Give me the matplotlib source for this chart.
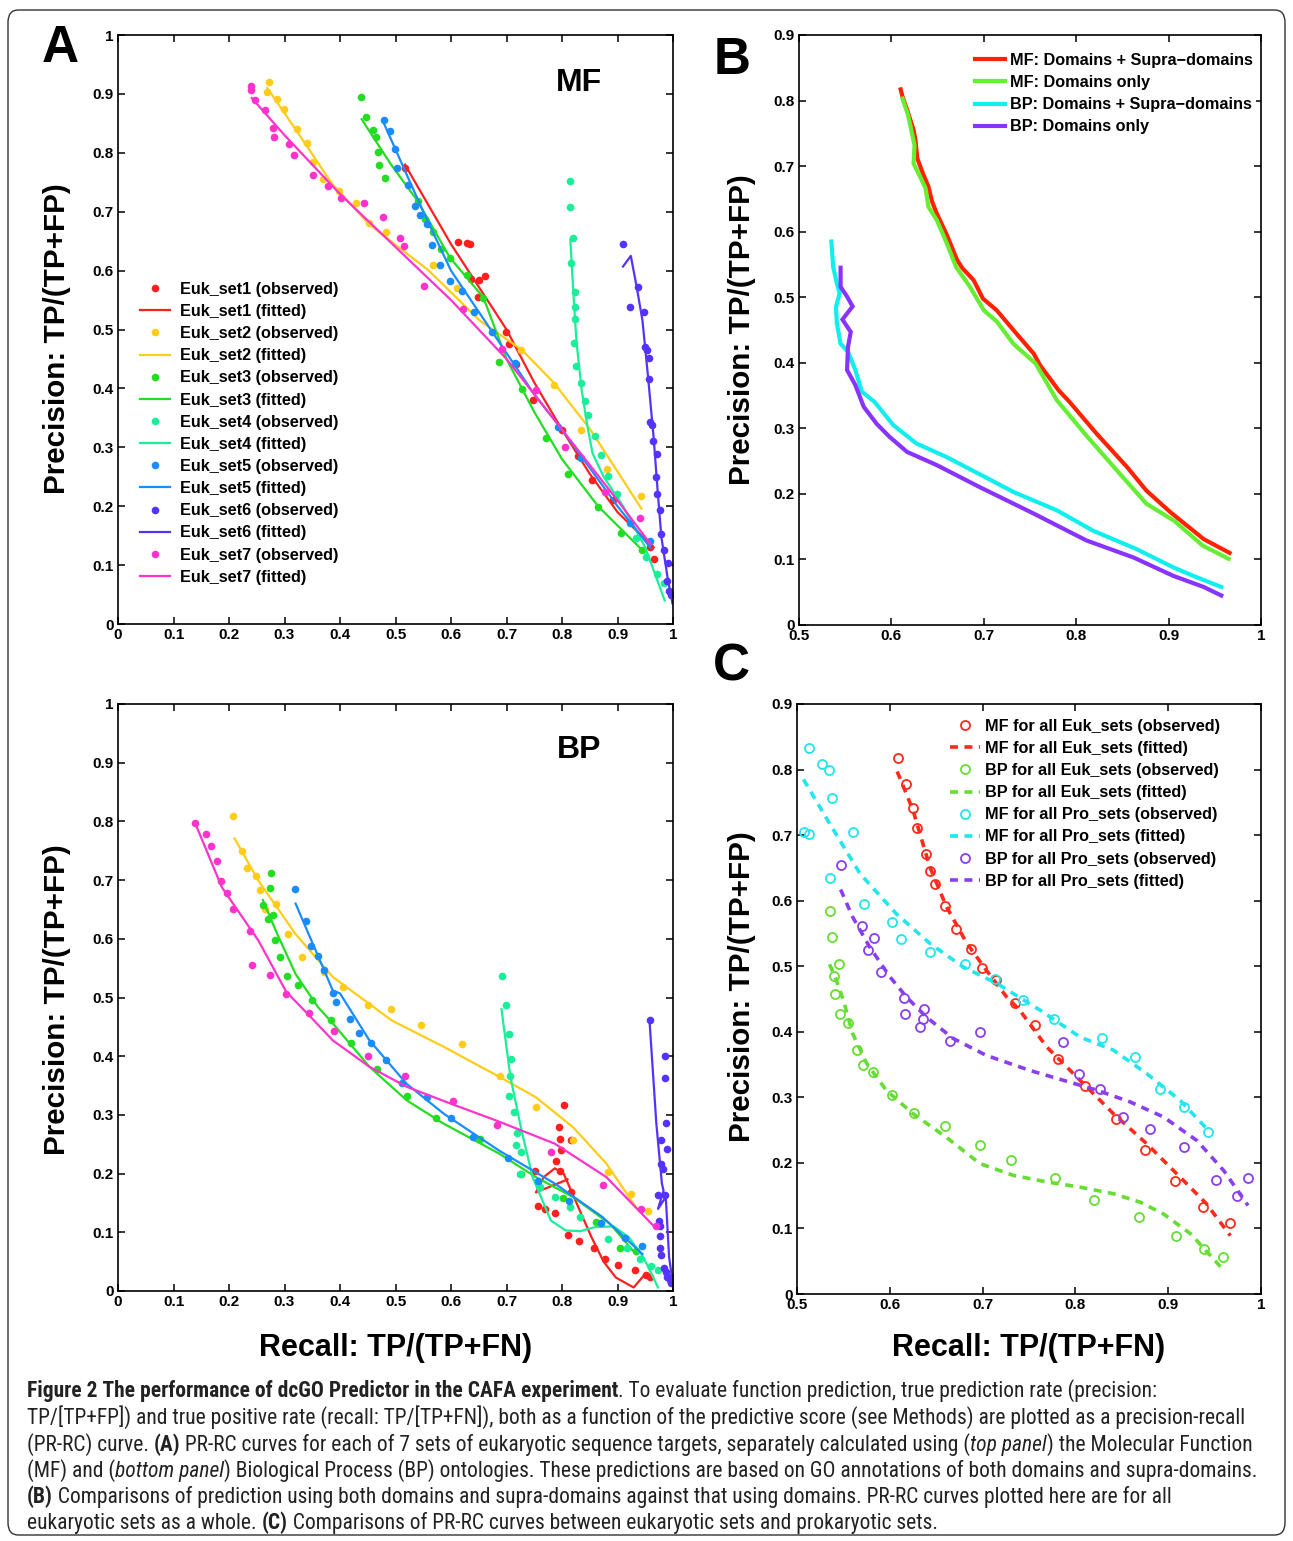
import matplotlib
matplotlib.use('Agg')
import matplotlib.pyplot as plt
from matplotlib.patches import FancyBboxPatch
from matplotlib import font_manager

# ---------------- DATA ----------------
set_names = ['Euk_set1', 'Euk_set2', 'Euk_set3', 'Euk_set4', 'Euk_set5', 'Euk_set6', 'Euk_set7']
set_colors = ['#ff1f1f', '#ffcc1a', '#22dd22', '#1aee99', '#1a8cff', '#5533ff', '#ff33cc']

# Panel A, MF: observed
mf_obs_x = [
    [0.517, 0.612, 0.628, 0.634, 0.636, 0.651, 0.662, 0.648, 0.699, 0.705, 0.717, 0.747, 0.800, 0.829, 0.854, 0.892, 0.959, 0.965],
    [0.272, 0.269, 0.287, 0.299, 0.322, 0.340, 0.351, 0.370, 0.399, 0.428, 0.452, 0.482, 0.567, 0.610, 0.727, 0.785, 0.835, 0.881, 0.943],
    [0.438, 0.446, 0.460, 0.464, 0.468, 0.470, 0.481, 0.540, 0.554, 0.568, 0.582, 0.598, 0.628, 0.658, 0.686, 0.728, 0.771, 0.811, 0.865, 0.906, 0.945],
    [0.815, 0.815, 0.819, 0.816, 0.824, 0.824, 0.824, 0.821, 0.825, 0.835, 0.841, 0.847, 0.859, 0.871, 0.882, 0.899, 0.933, 0.952, 0.971, 0.984],
    [0.480, 0.490, 0.499, 0.502, 0.523, 0.536, 0.545, 0.556, 0.566, 0.581, 0.598, 0.619, 0.642, 0.674, 0.715, 0.793, 0.834, 0.923, 0.959],
    [0.910, 0.923, 0.937, 0.947, 0.949, 0.953, 0.957, 0.957, 0.959, 0.963, 0.964, 0.971, 0.970, 0.972, 0.976, 0.979, 0.983, 0.991, 0.990, 0.993, 0.997],
    [0.240, 0.240, 0.247, 0.264, 0.280, 0.281, 0.308, 0.317, 0.351, 0.378, 0.402, 0.443, 0.477, 0.508, 0.516, 0.551, 0.621, 0.692, 0.754, 0.805, 0.878, 0.941],
]
mf_obs_y = [
    [0.775, 0.649, 0.647, 0.645, 0.585, 0.584, 0.590, 0.556, 0.495, 0.476, 0.441, 0.381, 0.329, 0.285, 0.245, 0.210, 0.131, 0.111],
    [0.920, 0.903, 0.892, 0.875, 0.841, 0.816, 0.785, 0.756, 0.735, 0.715, 0.680, 0.666, 0.610, 0.571, 0.466, 0.405, 0.329, 0.263, 0.218],
    [0.895, 0.861, 0.838, 0.827, 0.802, 0.779, 0.758, 0.718, 0.687, 0.665, 0.636, 0.621, 0.593, 0.553, 0.445, 0.399, 0.315, 0.254, 0.199, 0.154, 0.125],
    [0.752, 0.708, 0.656, 0.613, 0.564, 0.538, 0.517, 0.477, 0.438, 0.409, 0.378, 0.355, 0.319, 0.287, 0.251, 0.220, 0.146, 0.114, 0.085, 0.069],
    [0.856, 0.837, 0.807, 0.775, 0.745, 0.709, 0.695, 0.679, 0.644, 0.609, 0.582, 0.565, 0.529, 0.496, 0.443, 0.334, 0.282, 0.171, 0.141],
    [0.645, 0.539, 0.573, 0.530, 0.471, 0.466, 0.452, 0.416, 0.343, 0.338, 0.311, 0.288, 0.249, 0.220, 0.194, 0.153, 0.125, 0.104, 0.073, 0.056, 0.049],
    [0.913, 0.907, 0.890, 0.872, 0.842, 0.827, 0.815, 0.796, 0.762, 0.744, 0.724, 0.715, 0.691, 0.655, 0.641, 0.574, 0.535, 0.467, 0.398, 0.300, 0.224, 0.180],
]
# Panel A, MF: fitted
mf_fit_x = [
    [0.517, 0.600, 0.700, 0.750, 0.800, 0.850, 0.900, 0.965],
    [0.269, 0.322, 0.386, 0.452, 0.560, 0.652, 0.727, 0.785, 0.852, 0.943],
    [0.439, 0.492, 0.540, 0.598, 0.658, 0.700, 0.750, 0.800, 0.865, 0.945],
    [0.815, 0.820, 0.826, 0.835, 0.845, 0.855, 0.875, 0.910, 0.950, 0.985],
    [0.480, 0.550, 0.600, 0.650, 0.700, 0.750, 0.800, 0.850, 0.900, 0.959],
    [0.910, 0.924, 0.935, 0.945, 0.955, 0.965, 0.972, 0.979, 0.990, 0.999],
    [0.241, 0.300, 0.400, 0.500, 0.600, 0.700, 0.800, 0.900, 0.960],
]
mf_fit_y = [
    [0.780, 0.645, 0.500, 0.410, 0.330, 0.255, 0.190, 0.130],
    [0.910, 0.837, 0.747, 0.679, 0.600, 0.515, 0.466, 0.410, 0.329, 0.196],
    [0.857, 0.780, 0.718, 0.622, 0.555, 0.450, 0.360, 0.280, 0.200, 0.125],
    [0.653, 0.570, 0.480, 0.400, 0.340, 0.290, 0.250, 0.200, 0.130, 0.040],
    [0.848, 0.700, 0.600, 0.530, 0.460, 0.390, 0.330, 0.265, 0.200, 0.130],
    [0.607, 0.625, 0.570, 0.515, 0.420, 0.318, 0.230, 0.148, 0.080, 0.035],
    [0.893, 0.830, 0.730, 0.640, 0.550, 0.450, 0.330, 0.210, 0.135],
]

# Panel A, BP: observed
bp_obs_x = [
    [0.752, 0.757, 0.770, 0.787, 0.790, 0.795, 0.797, 0.799, 0.797, 0.803, 0.817, 0.817, 0.811, 0.831, 0.857, 0.877, 0.901, 0.931, 0.952, 0.958],
    [0.208, 0.223, 0.232, 0.248, 0.256, 0.264, 0.285, 0.306, 0.332, 0.372, 0.405, 0.451, 0.491, 0.546, 0.620, 0.689, 0.753, 0.819, 0.882, 0.925, 0.955],
    [0.261, 0.275, 0.273, 0.270, 0.279, 0.282, 0.291, 0.305, 0.324, 0.350, 0.383, 0.420, 0.467, 0.520, 0.573, 0.653, 0.727, 0.801, 0.861, 0.905, 0.933],
    [0.691, 0.699, 0.705, 0.708, 0.707, 0.705, 0.713, 0.719, 0.718, 0.727, 0.725, 0.760, 0.787, 0.815, 0.832, 0.883, 0.917, 0.940, 0.960, 0.973],
    [0.319, 0.338, 0.347, 0.361, 0.372, 0.388, 0.393, 0.418, 0.435, 0.455, 0.482, 0.512, 0.557, 0.600, 0.639, 0.702, 0.757, 0.813, 0.871, 0.913, 0.945],
    [0.958, 0.985, 0.985, 0.988, 0.978, 0.989, 0.978, 0.982, 0.973, 0.985, 0.975, 0.977, 0.977, 0.977, 0.978, 0.983, 0.987, 0.990, 0.995, 0.999, 0.997],
    [0.139, 0.158, 0.167, 0.178, 0.185, 0.197, 0.207, 0.237, 0.242, 0.273, 0.303, 0.345, 0.389, 0.451, 0.517, 0.604, 0.683, 0.781, 0.874, 0.943, 0.970],
]
bp_obs_y = [
    [0.205, 0.144, 0.140, 0.133, 0.221, 0.279, 0.259, 0.240, 0.205, 0.317, 0.257, 0.168, 0.096, 0.085, 0.073, 0.055, 0.045, 0.035, 0.028, 0.024],
    [0.810, 0.750, 0.721, 0.707, 0.683, 0.650, 0.659, 0.608, 0.569, 0.544, 0.518, 0.488, 0.481, 0.454, 0.421, 0.367, 0.314, 0.257, 0.202, 0.165, 0.137],
    [0.658, 0.712, 0.687, 0.633, 0.641, 0.598, 0.569, 0.537, 0.522, 0.495, 0.462, 0.422, 0.378, 0.332, 0.294, 0.259, 0.199, 0.158, 0.117, 0.073, 0.068],
    [0.537, 0.487, 0.437, 0.396, 0.366, 0.332, 0.305, 0.269, 0.249, 0.236, 0.199, 0.177, 0.160, 0.143, 0.126, 0.089, 0.073, 0.054, 0.043, 0.036],
    [0.685, 0.631, 0.588, 0.570, 0.546, 0.508, 0.492, 0.463, 0.439, 0.423, 0.393, 0.355, 0.330, 0.295, 0.262, 0.226, 0.187, 0.153, 0.116, 0.090, 0.077],
    [0.462, 0.400, 0.363, 0.287, 0.257, 0.242, 0.216, 0.207, 0.164, 0.164, 0.119, 0.111, 0.094, 0.073, 0.061, 0.040, 0.032, 0.023, 0.018, 0.024, 0.013],
    [0.797, 0.779, 0.758, 0.733, 0.699, 0.678, 0.650, 0.614, 0.556, 0.539, 0.506, 0.474, 0.443, 0.401, 0.366, 0.324, 0.283, 0.236, 0.181, 0.139, 0.111],
]
# Panel A, BP: fitted
bp_fit_x = [
    [0.810, 0.753, 0.767, 0.787, 0.803, 0.827, 0.853, 0.875, 0.897, 0.929, 0.950],
    [0.210, 0.253, 0.320, 0.387, 0.453, 0.493, 0.587, 0.687, 0.753, 0.820, 0.880, 0.933],
    [0.261, 0.287, 0.320, 0.360, 0.387, 0.453, 0.520, 0.587, 0.687, 0.753, 0.820, 0.887, 0.933],
    [0.691, 0.707, 0.727, 0.747, 0.780, 0.807, 0.833, 0.860, 0.893, 0.920, 0.947, 0.973],
    [0.320, 0.387, 0.400, 0.453, 0.520, 0.587, 0.687, 0.787, 0.873, 0.945],
    [0.958, 0.970, 0.980, 0.983, 0.973, 0.987, 0.993, 1.000],
    [0.139, 0.187, 0.253, 0.303, 0.347, 0.387, 0.453, 0.520, 0.600, 0.680, 0.787, 0.880, 0.967],
]
bp_fit_y = [
    [0.190, 0.168, 0.194, 0.209, 0.200, 0.148, 0.092, 0.050, 0.023, 0.006, 0.029],
    [0.771, 0.699, 0.608, 0.535, 0.489, 0.461, 0.416, 0.365, 0.330, 0.279, 0.217, 0.143],
    [0.666, 0.608, 0.540, 0.484, 0.456, 0.382, 0.325, 0.285, 0.234, 0.194, 0.160, 0.114, 0.063],
    [0.480, 0.365, 0.274, 0.194, 0.120, 0.103, 0.102, 0.109, 0.110, 0.092, 0.057, 0.006],
    [0.660, 0.512, 0.507, 0.427, 0.353, 0.302, 0.239, 0.183, 0.126, 0.063],
    [0.456, 0.285, 0.183, 0.171, 0.140, 0.160, 0.057, 0.012],
    [0.797, 0.688, 0.597, 0.510, 0.467, 0.427, 0.382, 0.348, 0.319, 0.291, 0.251, 0.194, 0.109],
]

# Panel B
b_labels = ['MF: Domains + Supra\u2212domains', 'MF: Domains only',
            'BP: Domains + Supra\u2212domains', 'BP: Domains only']
b_colors = ['#ff2200', '#66ee33', '#11eeee', '#8833ff']
b_x = [
    [0.610, 0.612, 0.617, 0.624, 0.626, 0.628, 0.634, 0.640, 0.644, 0.649, 0.660, 0.671, 0.677, 0.689, 0.699, 0.714, 0.732, 0.754, 0.761, 0.781, 0.793, 0.822, 0.855, 0.876, 0.902, 0.938, 0.966],
    [0.612, 0.618, 0.625, 0.624, 0.631, 0.637, 0.640, 0.649, 0.660, 0.670, 0.685, 0.700, 0.714, 0.732, 0.756, 0.779, 0.811, 0.847, 0.876, 0.906, 0.937, 0.965],
    [0.535, 0.537, 0.541, 0.544, 0.540, 0.541, 0.545, 0.553, 0.561, 0.568, 0.582, 0.602, 0.627, 0.660, 0.701, 0.732, 0.779, 0.818, 0.865, 0.905, 0.930, 0.957],
    [0.545, 0.545, 0.552, 0.558, 0.547, 0.556, 0.553, 0.552, 0.561, 0.570, 0.584, 0.598, 0.617, 0.649, 0.696, 0.754, 0.779, 0.811, 0.862, 0.905, 0.938, 0.957],
]
b_y = [
    [0.817, 0.806, 0.786, 0.755, 0.740, 0.712, 0.689, 0.669, 0.646, 0.628, 0.595, 0.557, 0.544, 0.526, 0.498, 0.480, 0.450, 0.414, 0.396, 0.358, 0.340, 0.292, 0.241, 0.205, 0.172, 0.131, 0.110],
    [0.803, 0.778, 0.732, 0.704, 0.684, 0.666, 0.638, 0.618, 0.582, 0.546, 0.516, 0.480, 0.463, 0.429, 0.399, 0.343, 0.289, 0.231, 0.185, 0.159, 0.121, 0.101],
    [0.585, 0.546, 0.521, 0.506, 0.485, 0.460, 0.429, 0.417, 0.389, 0.356, 0.340, 0.305, 0.277, 0.256, 0.226, 0.203, 0.175, 0.144, 0.116, 0.088, 0.073, 0.058],
    [0.545, 0.516, 0.501, 0.486, 0.466, 0.447, 0.424, 0.389, 0.366, 0.333, 0.307, 0.287, 0.264, 0.244, 0.210, 0.170, 0.152, 0.129, 0.103, 0.075, 0.058, 0.045],
]

# Panel C
c_names = ['MF for all Euk_sets', 'BP for all Euk_sets', 'MF for all Pro_sets', 'BP for all Pro_sets']
c_colors = ['#ff2a1a', '#66dd33', '#22e5ee', '#8a3ef0']
c_obs_x = [
    [0.609, 0.617, 0.625, 0.629, 0.639, 0.643, 0.649, 0.660, 0.671, 0.688, 0.699, 0.714, 0.735, 0.757, 0.781, 0.810, 0.844, 0.875, 0.907, 0.938, 0.967],
    [0.536, 0.538, 0.545, 0.540, 0.541, 0.546, 0.555, 0.565, 0.571, 0.582, 0.602, 0.626, 0.659, 0.697, 0.731, 0.778, 0.820, 0.868, 0.908, 0.939, 0.959],
    [0.513, 0.527, 0.535, 0.538, 0.508, 0.513, 0.560, 0.536, 0.572, 0.602, 0.612, 0.643, 0.681, 0.713, 0.743, 0.777, 0.829, 0.864, 0.891, 0.917, 0.943],
    [0.547, 0.570, 0.583, 0.576, 0.591, 0.615, 0.616, 0.637, 0.636, 0.633, 0.665, 0.697, 0.787, 0.804, 0.827, 0.851, 0.880, 0.917, 0.952, 0.974, 0.986],
]
c_obs_y = [
    [0.818, 0.778, 0.742, 0.711, 0.671, 0.645, 0.626, 0.592, 0.557, 0.527, 0.498, 0.479, 0.444, 0.410, 0.358, 0.317, 0.267, 0.220, 0.173, 0.132, 0.109],
    [0.584, 0.544, 0.503, 0.485, 0.458, 0.427, 0.414, 0.372, 0.350, 0.339, 0.304, 0.276, 0.256, 0.227, 0.204, 0.177, 0.144, 0.117, 0.088, 0.068, 0.057],
    [0.833, 0.809, 0.799, 0.756, 0.705, 0.702, 0.704, 0.635, 0.595, 0.568, 0.541, 0.522, 0.503, 0.481, 0.448, 0.419, 0.390, 0.361, 0.312, 0.285, 0.247],
    [0.654, 0.561, 0.543, 0.525, 0.491, 0.452, 0.427, 0.434, 0.420, 0.407, 0.386, 0.399, 0.385, 0.336, 0.313, 0.270, 0.252, 0.224, 0.174, 0.150, 0.177],
]
c_fit_x = [
    [0.608, 0.625, 0.643, 0.661, 0.683, 0.704, 0.726, 0.740, 0.769, 0.805, 0.841, 0.877, 0.913, 0.941, 0.967],
    [0.535, 0.541, 0.550, 0.560, 0.575, 0.596, 0.625, 0.661, 0.697, 0.733, 0.769, 0.805, 0.841, 0.870, 0.895, 0.924, 0.960],
    [0.507, 0.535, 0.568, 0.607, 0.643, 0.679, 0.715, 0.762, 0.805, 0.841, 0.877, 0.913, 0.943],
    [0.547, 0.560, 0.578, 0.600, 0.618, 0.639, 0.668, 0.704, 0.751, 0.787, 0.823, 0.859, 0.895, 0.931, 0.960, 0.986],
]
c_fit_y = [
    [0.797, 0.738, 0.652, 0.591, 0.535, 0.494, 0.453, 0.433, 0.377, 0.326, 0.275, 0.229, 0.178, 0.138, 0.089],
    [0.503, 0.484, 0.448, 0.397, 0.352, 0.311, 0.275, 0.239, 0.199, 0.181, 0.171, 0.163, 0.153, 0.140, 0.122, 0.092, 0.036],
    [0.785, 0.718, 0.641, 0.580, 0.535, 0.499, 0.474, 0.433, 0.392, 0.372, 0.336, 0.295, 0.250],
    [0.617, 0.575, 0.530, 0.484, 0.453, 0.423, 0.390, 0.364, 0.341, 0.326, 0.311, 0.293, 0.270, 0.234, 0.188, 0.135],
]

# ---------------- STYLE ----------------
FONT = ['Liberation Sans', 'DejaVu Sans']
plt.rcParams['font.family'] = FONT
plt.rcParams['font.weight'] = 'bold'
plt.rcParams['axes.linewidth'] = 1.2

W, H = 1293, 1541
fig = plt.figure(figsize=(W / 100, H / 100), dpi=100)
LEG = {'weight': 'bold', 'size': 11.7}


def px_axes(l, t, r, b):
    return fig.add_axes([l / W, 1 - b / H, (r - l) / W, (b - t) / H])


def style_axes(ax, xlim, ylim, xticks, yticks):
    ax.set_xlim(*xlim)
    ax.set_ylim(*ylim)
    ax.set_xticks(xticks)
    ax.set_yticks(yticks)
    ax.set_xticklabels(['%g' % v for v in xticks])
    ax.set_yticklabels(['%g' % v for v in yticks])
    ax.tick_params(direction='in', top=True, right=True, length=5, width=1.1,
                   labelsize=11, pad=3)
    for lab in ax.get_xticklabels() + ax.get_yticklabels():
        lab.set_fontweight('bold')


ticks01 = [0, 0.1, 0.2, 0.3, 0.4, 0.5, 0.6, 0.7, 0.8, 0.9, 1]
ticks09 = [0, 0.1, 0.2, 0.3, 0.4, 0.5, 0.6, 0.7, 0.8, 0.9]
ticks51 = [0.5, 0.6, 0.7, 0.8, 0.9, 1]

# Panel A top (MF)
axA1 = px_axes(118, 35, 673, 624)
for i in range(7):
    axA1.plot(mf_obs_x[i], mf_obs_y[i], 'o', ms=5.5, mec='none', color=set_colors[i],
              label=set_names[i] + ' (observed)')
    axA1.plot(mf_fit_x[i], mf_fit_y[i], '-', lw=1.6, color=set_colors[i],
              label=set_names[i] + ' (fitted)')
style_axes(axA1, (0, 1), (0, 1), ticks01, ticks01)
axA1.text(0.831, 0.919, 'MF', transform=axA1.transAxes, fontsize=23, fontweight='bold', ha='center', va='center')
axA1.legend(loc='upper left', bbox_to_anchor=(0.0396, 0.581), frameon=False,
            handlelength=1.85, handletextpad=0.6, labelspacing=0.44, borderpad=0,
            borderaxespad=0, prop=LEG)

# Panel A bottom (BP)
axA2 = px_axes(118, 704, 673, 1291)
for i in range(7):
    axA2.plot(bp_obs_x[i], bp_obs_y[i], 'o', ms=5.5, mec='none', color=set_colors[i])
    axA2.plot(bp_fit_x[i], bp_fit_y[i], '-', lw=1.6, color=set_colors[i])
style_axes(axA2, (0, 1), (0, 1), ticks01, ticks01)
axA2.text(0.831, 0.922, 'BP', transform=axA2.transAxes, fontsize=23, fontweight='bold', ha='center', va='center')

# Panel B
axB = px_axes(799, 35, 1261, 625)
for i in range(4):
    axB.plot(b_x[i], b_y[i], '-', lw=3, color=b_colors[i], label=b_labels[i], solid_joinstyle='miter')
style_axes(axB, (0.5, 1), (0, 0.9), ticks51, ticks09)
axB.legend(loc='upper left', bbox_to_anchor=(0.374, 0.975), frameon=True,
           handlelength=1.85, handletextpad=0.3, labelspacing=0.44, borderpad=0.2,
           borderaxespad=0, prop=LEG, fancybox=False, edgecolor='none', framealpha=1)

# Panel C
axC = px_axes(797, 704, 1261, 1294)
for i in range(4):
    axC.plot(c_obs_x[i], c_obs_y[i], 'o', ms=6.5, mfc='none', mew=1.3, color=c_colors[i],
             label=c_names[i] + ' (observed)')
    axC.plot(c_fit_x[i], c_fit_y[i], '--', lw=2.6, dashes=(2.2, 1.8), color=c_colors[i],
             label=c_names[i] + ' (fitted)')
style_axes(axC, (0.5, 1), (0, 0.9), ticks51, ticks09)
axC.legend(loc='upper left', bbox_to_anchor=(0.33, 0.975), frameon=False,
           handlelength=1.85, handletextpad=0.3, labelspacing=0.44, borderpad=0,
           borderaxespad=0, prop=LEG)

# Axis labels
ylab = 'Precision: TP/(TP+FP)'
xlab = 'Recall: TP/(TP+FN)'
for (xp, yp) in [(57, 339), (57, 1000), (742, 330), (742, 987)]:
    fig.text(xp / W, 1 - yp / H, ylab, rotation=90, fontsize=21.3, fontweight='bold', ha='center', va='center')
fig.text(396 / W, 1 - 1348 / H, xlab, fontsize=22, fontweight='bold', ha='center', va='center')
fig.text(1029 / W, 1 - 1348 / H, xlab, fontsize=22, fontweight='bold', ha='center', va='center')

# Panel letters
fig.text(60 / W, 1 - 48 / H, 'A', fontsize=37, fontweight='bold', ha='center', va='center')
fig.text(732 / W, 1 - 60 / H, 'B', fontsize=37, fontweight='bold', ha='center', va='center')
fig.text(731 / W, 1 - 667 / H, 'C', fontsize=37, fontweight='bold', ha='center', va='center')

# Frame
frame = FancyBboxPatch((8 / W, 6 / H), (W - 16) / W, (H - 16) / H,
                       boxstyle='round,pad=0,rounding_size=0.008', transform=fig.transFigure,
                       fill=False, lw=1.0, edgecolor='#333333')
fig.patches.append(frame)

# Caption
available = {f.name for f in font_manager.fontManager.ttflist}
cap_family = 'DejaVu Sans'
for cand in ['Liberation Sans Narrow', 'Roboto Condensed', 'Open Sans Condensed', 'Noto Sans Display',
             'Liberation Sans']:
    if cand in available:
        cap_family = cand
        break

cap_lines = [
    [('Figure 2 The performance of dcGO Predictor in the CAFA experiment', 'bold', 'normal'),
     ('. To evaluate function prediction, true prediction rate (precision:', 'normal', 'normal')],
    [('TP/[TP+FP]) and true positive rate (recall: TP/[TP+FN]), both as a function of the predictive score (see Methods) are plotted as a precision-recall', 'normal', 'normal')],
    [('(PR-RC) curve. ', 'normal', 'normal'), ('(A)', 'bold', 'normal'),
     (' PR-RC curves for each of 7 sets of eukaryotic sequence targets, separately calculated using (', 'normal', 'normal'),
     ('top panel', 'normal', 'italic'), (') the Molecular Function', 'normal', 'normal')],
    [('(MF) and (', 'normal', 'normal'), ('bottom panel', 'normal', 'italic'),
     (') Biological Process (BP) ontologies. These predictions are based on GO annotations of both domains and supra-domains.', 'normal', 'normal')],
    [('(B)', 'bold', 'normal'),
     (' Comparisons of prediction using both domains and supra-domains against that using domains. PR-RC curves plotted here are for all', 'normal', 'normal')],
    [('eukaryotic sets as a whole. ', 'normal', 'normal'), ('(C)', 'bold', 'normal'),
     (' Comparisons of PR-RC curves between eukaryotic sets and prokaryotic sets.', 'normal', 'normal')],
]
cap_targets = [1248, 1231, 1241, 1248, 1175, 915]
cap_baselines = [1397, 1424, 1451, 1477, 1503, 1529]

renderer = fig.canvas.get_renderer()


def draw_line(segs, y, size, draw=True):
    x = 27 / W
    made = []
    for txt, wt, st in segs:
        t = fig.text(x, 1 - y / H, txt, fontsize=size, fontweight=wt, fontstyle=st,
                     family=[cap_family, 'DejaVu Sans'], ha='left', va='baseline', color='#222222')
        bb = t.get_window_extent(renderer)
        x += bb.width / W
        made.append(t)
    if not draw:
        for t in made:
            t.remove()
    return x * W - 27


base = 14.0
scales = []
for segs, tgt in zip(cap_lines[:4], cap_targets[:4]):
    w = draw_line(segs, 1400, base, draw=False)
    scales.append(tgt / w)
cap_size = base * min(scales)
for segs, yb in zip(cap_lines, cap_baselines):
    draw_line(segs, yb, cap_size)

fig.savefig('out.png', dpi=100)
